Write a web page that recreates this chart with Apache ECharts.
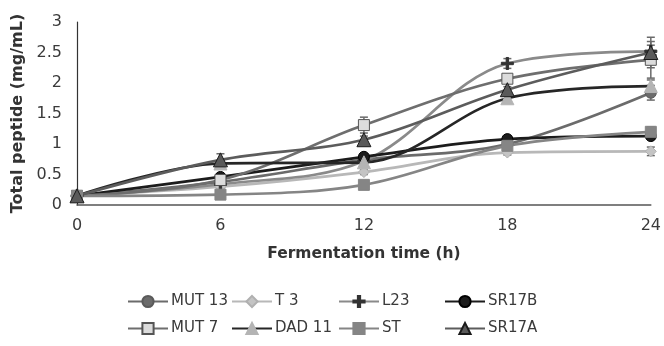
<!DOCTYPE html>
<html><head><meta charset="utf-8">
<script src="https://cdn.jsdelivr.net/npm/echarts@6/dist/echarts.min.js"></script>
<style>html,body{margin:0;padding:0;background:#fff}#c{width:664px;height:346px}</style>
</head><body><div id="c"></div>
<script>
const times = [0, 6, 12, 18, 24];
const xTicks = [0, 6, 12, 18, 24];
const yTicks = [0, 0.5, 1, 1.5, 2, 2.5, 3];
const names = ['MUT 13', 'T 3', 'L23', 'SR17B', 'MUT 7', 'DAD 11', 'ST', 'SR17A'];
const mut13 = [0.15, 0.38, 0.74, 1.00, 1.84];
const t3    = [0.15, 0.30, 0.54, 0.86, 0.88];
const l23   = [0.15, 0.34, 0.72, 2.32, 2.52];
const sr17b = [0.15, 0.46, 0.79, 1.08, 1.13];
const mut7  = [0.15, 0.41, 1.31, 2.07, 2.38];
const dad11 = [0.15, 0.68, 0.70, 1.75, 1.95];
const st    = [0.15, 0.17, 0.33, 0.97, 1.20];
const sr17a = [0.15, 0.74, 1.07, 1.89, 2.50];
const errMut13 = [0.02, 0.04, 0.05, 0.05, 0.12];
const errT3    = [0.02, 0.03, 0.04, 0.04, 0.07];
const errL23   = [0.02, 0.04, 0.05, 0.08, 0.10];
const errSr17b = [0.02, 0.04, 0.05, 0.05, 0.05];
const errMut7  = [0.02, 0.06, 0.13, 0.05, 0.30];
const errDad11 = [0.02, 0.04, 0.05, 0.04, 0.10];
const errSt    = [0.02, 0.03, 0.03, 0.04, 0.08];
const errSr17a = [0.02, 0.10, 0.06, 0.05, 0.25];

const values = [mut13, t3, l23, sr17b, mut7, dad11, st, sr17a];
const errs = [errMut13, errT3, errL23, errSr17b, errMut7, errDad11, errSt, errSr17a];
const FONT = 'DejaVu Sans';
const plus = 'path://M4,0h2v4h4v2h-4v4h-2v-4h-4v-2h4z';
const styles = [
  {line:'#6b6b6b', sym:'circle', size:11, fill:'#6b6b6b', border:'#5a5a5a'},
  {line:'#b8b8b8', sym:'diamond', size:11, fill:'#c4c4c4', border:'#b0b0b0'},
  {line:'#8a8a8a', sym:plus, size:12, fill:'#333333', border:'#333333'},
  {line:'#1c1c1c', sym:'circle', size:11, fill:'#1c1c1c', border:'#000000'},
  {line:'#6e6e6e', sym:'rect', size:11, fill:'#dcdcdc', border:'#555555'},
  {line:'#262626', sym:'triangle', size:13, fill:'#b4b4b4', border:'#b4b4b4'},
  {line:'#858585', sym:'rect', size:11, fill:'#858585', border:'#858585'},
  {line:'#5c5c5c', sym:'triangle', size:14, fill:'#5a5a5a', border:'#1a1a1a'}
];

const series = [];
values.forEach((vals, i) => {
  series.push({
    type: 'custom', silent: true, z: 1,
    data: times.map((t, k) => [t, vals[k] - errs[i][k], vals[k] + errs[i][k]]),
    renderItem: (params, api) => {
      const lo = api.coord([api.value(0), api.value(1)]);
      const hi = api.coord([api.value(0), api.value(2)]);
      const w = 4;
      const sty = {stroke:'#6a6a6a', lineWidth:1.5};
      return {type:'group', children:[
        {type:'line', shape:{x1:lo[0], y1:lo[1], x2:hi[0], y2:hi[1]}, style:sty},
        {type:'line', shape:{x1:lo[0]-w, y1:lo[1], x2:lo[0]+w, y2:lo[1]}, style:sty},
        {type:'line', shape:{x1:hi[0]-w, y1:hi[1], x2:hi[0]+w, y2:hi[1]}, style:sty}
      ]};
    }
  });
});
values.forEach((vals, i) => {
  const s = styles[i];
  series.push({
    name: names[i], type: 'line', smooth: 0.35, z: 3,
    data: times.map((t, k) => [t, vals[k]]),
    symbol: s.sym, symbolSize: s.size, showAllSymbol: true,
    lineStyle: {color: s.line, width: 2.7},
    itemStyle: {color: s.fill, borderColor: s.border, borderWidth: 1},
    emphasis: {disabled: true}
  });
});

const legendCol = (items, left) => ({
  data: items, orient: 'vertical', left: left, top: 294, itemGap: 12, padding: 0,
  itemWidth: 40, itemHeight: 14, selectedMode: false,
  textStyle: {fontFamily: FONT, fontSize: 15, color: '#3a3a3a', padding: [0,0,0,-2]}
});

const chart = echarts.init(document.getElementById('c'), null, {renderer: 'canvas'});
chart.setOption({
  animation: false,
  backgroundColor: '#fff',
  grid: {left: 77, right: 11, top: 22, bottom: 141, containLabel: false},
  xAxis: {
    type: 'value', min: xTicks[0], max: xTicks[xTicks.length-1], interval: 6,
    axisLine: {lineStyle: {color: '#555', width: 1.5}},
    axisTick: {show: false}, splitLine: {show: false},
    axisLabel: {fontFamily: FONT, fontSize: 16, color: '#3a3a3a', margin: 13},
    name: 'Fermentation time (h)', nameLocation: 'middle', nameGap: 41,
    nameTextStyle: {fontFamily: FONT, fontSize: 15.5, fontWeight: 'bold', color: '#333'}
  },
  yAxis: {
    type: 'value', min: yTicks[0], max: yTicks[yTicks.length-1], interval: 0.5,
    axisLine: {show: true, lineStyle: {color: '#333', width: 1.2}},
    axisTick: {show: false}, splitLine: {show: false},
    axisLabel: {fontFamily: FONT, fontSize: 16, color: '#3a3a3a', margin: 15},
    name: 'Total peptide (mg/mL)', nameLocation: 'middle', nameGap: 50,
    nameTextStyle: {fontFamily: FONT, fontSize: 16, fontWeight: 'bold', color: '#333'}
  },
  legend: [
    legendCol([names[0], names[4]], 127),
    legendCol([names[1], names[5]], 231),
    legendCol([names[2], names[6]], 338),
    legendCol([names[3], names[7]], 444)
  ],
  series: series
});
</script></body></html>
